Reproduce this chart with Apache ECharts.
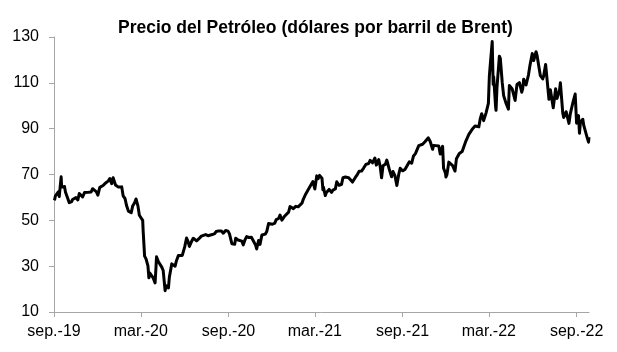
<!DOCTYPE html>
<html>
<head>
<meta charset="utf-8">
<script src="https://cdn.jsdelivr.net/npm/echarts@6/dist/echarts.min.js"></script>
<style>html,body{margin:0;padding:0;background:#fff}#c{width:617px;height:352px}</style>
</head>
<body>
<div id="c"></div>
<script>
const titleText = 'Precio del Petróleo (dólares por barril de Brent)';
const startDate = '2019-09-01';
const endDate = '2022-09-27';
const tickDates = ['2019-09-01','2020-03-01','2020-09-01','2021-03-01','2021-09-01','2022-03-01','2022-09-01'];
const tickLabels = ['sep.-19','mar.-20','sep.-20','mar.-21','sep.-21','mar.-22','sep.-22'];
const yTicks = [10, 30, 50, 70, 90, 110, 130];

const dates = [
'2019-09-02','2019-09-04','2019-09-06','2019-09-10','2019-09-12','2019-09-13','2019-09-16','2019-09-17','2019-09-19','2019-09-23','2019-09-25','2019-09-27',
'2019-10-01','2019-10-03','2019-10-08','2019-10-10','2019-10-14','2019-10-17','2019-10-21','2019-10-24','2019-10-28','2019-10-31',
'2019-11-04','2019-11-07','2019-11-11','2019-11-14','2019-11-18','2019-11-21','2019-11-25','2019-11-29',
'2019-12-02','2019-12-06','2019-12-10','2019-12-13','2019-12-17','2019-12-20','2019-12-24','2019-12-27','2019-12-31',
'2020-01-03','2020-01-06','2020-01-08','2020-01-10','2020-01-14','2020-01-17','2020-01-21','2020-01-24','2020-01-28','2020-01-31',
'2020-02-04','2020-02-07','2020-02-10','2020-02-13','2020-02-17','2020-02-20','2020-02-24','2020-02-27',
'2020-03-02','2020-03-05','2020-03-06','2020-03-09','2020-03-12','2020-03-16','2020-03-18','2020-03-20','2020-03-24','2020-03-27','2020-03-31',
'2020-04-02','2020-04-03','2020-04-07','2020-04-09','2020-04-14','2020-04-17','2020-04-21','2020-04-22','2020-04-24','2020-04-28','2020-04-30',
'2020-05-05','2020-05-08','2020-05-12','2020-05-15','2020-05-19','2020-05-22','2020-05-27',
'2020-06-01','2020-06-05','2020-06-08','2020-06-11','2020-06-16','2020-06-19','2020-06-23','2020-06-26',
'2020-07-01','2020-07-06','2020-07-10','2020-07-15','2020-07-20','2020-07-24','2020-07-29',
'2020-08-03','2020-08-06','2020-08-12','2020-08-17','2020-08-21','2020-08-26','2020-08-31',
'2020-09-03','2020-09-08','2020-09-10','2020-09-14','2020-09-16','2020-09-21','2020-09-24','2020-09-29',
'2020-10-02','2020-10-06','2020-10-09','2020-10-14','2020-10-19','2020-10-23','2020-10-28','2020-10-30',
'2020-11-03','2020-11-06','2020-11-10','2020-11-13','2020-11-17','2020-11-20','2020-11-24','2020-11-27',
'2020-12-02','2020-12-07','2020-12-10','2020-12-15','2020-12-18','2020-12-22','2020-12-28','2020-12-31',
'2021-01-05','2021-01-08','2021-01-12','2021-01-15','2021-01-20','2021-01-25','2021-01-29',
'2021-02-02','2021-02-05','2021-02-10','2021-02-15','2021-02-19','2021-02-25',
'2021-03-01','2021-03-05','2021-03-08','2021-03-11','2021-03-16','2021-03-18','2021-03-19','2021-03-23','2021-03-25','2021-03-31',
'2021-04-05','2021-04-08','2021-04-13','2021-04-16','2021-04-21','2021-04-26','2021-04-29',
'2021-05-04','2021-05-07','2021-05-11','2021-05-14','2021-05-19','2021-05-21','2021-05-25','2021-05-28',
'2021-06-02','2021-06-07','2021-06-11','2021-06-16','2021-06-22','2021-06-25','2021-06-30',
'2021-07-05','2021-07-08','2021-07-13','2021-07-16','2021-07-19','2021-07-22','2021-07-27','2021-07-30',
'2021-08-04','2021-08-09','2021-08-12','2021-08-16','2021-08-20','2021-08-24','2021-08-27',
'2021-09-01','2021-09-06','2021-09-10','2021-09-15','2021-09-20','2021-09-24','2021-09-28',
'2021-10-01','2021-10-05','2021-10-08','2021-10-13','2021-10-18','2021-10-21','2021-10-25','2021-10-29',
'2021-11-03','2021-11-05','2021-11-10','2021-11-12','2021-11-16','2021-11-19','2021-11-24','2021-11-26','2021-11-30',
'2021-12-01','2021-12-03','2021-12-07','2021-12-10','2021-12-15','2021-12-20','2021-12-23','2021-12-29',
'2022-01-04','2022-01-07','2022-01-12','2022-01-18','2022-01-21','2022-01-26','2022-01-31',
'2022-02-03','2022-02-08','2022-02-11','2022-02-14','2022-02-18','2022-02-23','2022-02-28',
'2022-03-02','2022-03-04','2022-03-08','2022-03-10','2022-03-11','2022-03-15','2022-03-16','2022-03-18','2022-03-23','2022-03-25','2022-03-29',
'2022-04-01','2022-04-06','2022-04-11','2022-04-13','2022-04-19','2022-04-22','2022-04-25','2022-04-29',
'2022-05-04','2022-05-09','2022-05-11','2022-05-13','2022-05-18','2022-05-23','2022-05-26','2022-05-31',
'2022-06-03','2022-06-08','2022-06-10','2022-06-14','2022-06-17','2022-06-22','2022-06-24','2022-06-28',
'2022-07-01','2022-07-05','2022-07-08','2022-07-14','2022-07-19','2022-07-22','2022-07-27','2022-07-29',
'2022-08-03','2022-08-05','2022-08-10','2022-08-16','2022-08-19','2022-08-24','2022-08-29',
'2022-09-01','2022-09-05','2022-09-07','2022-09-09','2022-09-14','2022-09-16','2022-09-20','2022-09-23','2022-09-26','2022-09-27'
];

const brent = [
58.7,60.7,61.5,62.4,60.4,60.2,69.0,64.5,64.4,64.8,62.4,61.9,
58.9,57.7,58.2,59.1,59.3,59.9,58.9,61.7,61.6,60.2,
62.1,62.3,62.2,62.3,62.4,63.8,63.6,62.4,
61.0,64.4,64.3,65.2,66.1,66.1,67.2,68.2,66.0,
68.6,68.9,65.4,65.0,64.5,64.9,64.6,60.7,59.5,56.6,
54.0,54.5,53.3,56.3,57.7,59.3,56.3,52.2,
51.9,50.0,45.3,34.4,33.2,30.1,24.9,27.0,27.2,24.9,22.7,
29.9,34.1,31.9,31.5,29.6,28.1,19.3,20.4,21.4,20.5,25.3,
31.0,31.0,30.0,32.5,34.7,35.1,34.7,
38.3,42.3,40.8,38.6,41.0,42.2,42.6,41.0,
42.0,43.1,43.2,43.8,43.3,43.3,43.8,
44.2,45.1,45.4,45.4,44.4,45.6,45.3,
44.1,39.8,40.1,39.6,42.2,41.4,41.9,40.9,
39.3,41.7,42.9,42.5,42.6,41.8,39.1,37.5,
41.2,39.5,43.6,42.8,44.0,45.0,48.6,48.2,
48.3,48.8,50.3,50.8,52.3,50.1,51.9,51.8,
53.6,56.0,56.6,55.1,56.1,55.9,55.9,
57.5,59.3,61.5,63.3,62.9,66.9,
63.7,69.4,68.2,69.6,68.4,63.3,64.5,60.8,62.0,63.5,
62.2,63.2,63.7,66.8,65.3,65.7,68.6,
68.9,68.3,68.6,68.7,66.7,66.4,68.7,69.6,
71.4,71.5,72.7,74.4,74.8,76.2,75.1,
77.2,74.1,76.5,73.6,68.6,73.8,74.5,76.3,
72.4,69.0,71.3,69.5,65.2,70.1,72.7,
71.6,72.2,72.9,75.5,74.9,78.1,79.1,
79.3,82.6,82.4,83.2,84.3,84.6,86.0,84.4,
81.0,82.7,82.6,82.2,82.4,78.9,82.3,72.7,70.6,
68.9,69.9,75.4,75.2,73.9,71.5,76.9,79.2,
80.0,81.8,84.7,87.5,87.9,90.0,91.2,
91.1,90.8,94.4,96.5,93.5,96.8,101.0,
112.9,118.1,128.0,109.3,112.7,99.9,98.0,107.9,121.6,120.7,110.2,
104.4,101.1,98.5,108.8,107.3,106.7,102.3,109.3,
110.1,105.9,107.5,111.6,109.1,113.4,117.4,122.8,
119.7,123.6,122.0,121.2,113.1,111.7,113.1,118.0,
111.6,102.8,107.0,99.1,107.4,103.2,106.6,110.0,
96.8,94.9,97.4,92.3,96.7,101.2,105.1,
92.4,95.7,88.0,92.8,94.1,91.4,90.6,86.2,84.1,86.3
];

const DAY = 86400000;
const t0 = Date.parse(startDate + 'T00:00:00Z');
const dayOf = d => Math.round((Date.parse(d + 'T00:00:00Z') - t0) / DAY);
const tickDays = tickDates.map(dayOf);
const labelByDay = {};
tickDays.forEach((d, i) => { labelByDay[d] = tickLabels[i]; });
const seriesData = dates.map((d, i) => [dayOf(d), brent[i]]);

const FONT = '"Liberation Sans", Arial, sans-serif';
const chart = echarts.init(document.getElementById('c'), null, { renderer: 'canvas' });
chart.setOption({
  animation: false,
  backgroundColor: '#ffffff',
  title: {
    text: titleText,
    left: 118,
    top: 19,
    padding: 0,
    textStyle: { fontFamily: FONT, fontSize: 17.5, fontWeight: 'bold', color: '#000' }
  },
  grid: { left: 54, right: 28, top: 37, bottom: 40, containLabel: false },
  xAxis: {
    type: 'value',
    min: 0,
    max: dayOf(endDate),
    splitLine: { show: false },
    axisLine: { show: true, lineStyle: { color: '#a6a6a6', width: 1 } },
    axisTick: { show: true, length: 5, lineStyle: { color: '#a6a6a6' }, customValues: tickDays },
    axisLabel: {
      customValues: tickDays,
      formatter: v => labelByDay[v] || '',
      fontFamily: FONT, fontSize: 16, color: '#000', margin: 12
    }
  },
  yAxis: {
    type: 'value',
    min: 10, max: 130, interval: 20,
    splitLine: { show: false },
    axisLine: { show: true, lineStyle: { color: '#a6a6a6', width: 1 } },
    axisTick: { show: true, length: 5, lineStyle: { color: '#a6a6a6' } },
    axisLabel: { fontFamily: FONT, fontSize: 16, color: '#000', margin: 15 }
  },
  series: [{
    type: 'line',
    data: seriesData,
    showSymbol: false,
    symbol: 'none',
    lineStyle: { color: '#000', width: 3, join: 'round' },
    z: 3
  }]
});
</script>
</body>
</html>
